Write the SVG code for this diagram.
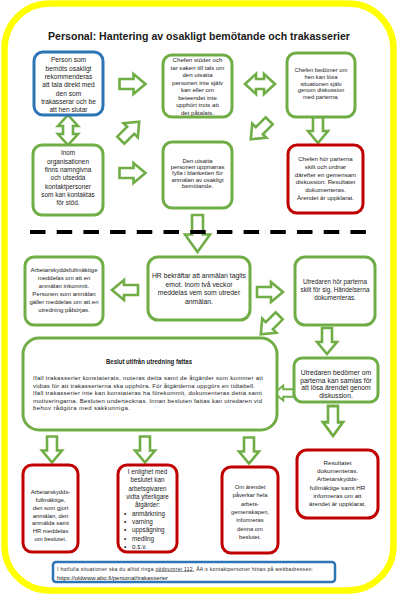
<svg xmlns="http://www.w3.org/2000/svg" xmlns:xlink="http://www.w3.org/1999/xlink" width="400" height="601" viewBox="0 0 400 601">
<style>
.g{fill:#fff;stroke:#70AD47;stroke-width:3}
.r{fill:#fff;stroke:#C00000;stroke-width:3}
.b{fill:#fff;stroke:#2E75B6;stroke-width:3}
.ar{fill:#fff;stroke:#70AD47;stroke-width:2.6;stroke-linejoin:miter}
text{font-family:"Liberation Sans",Arial,sans-serif;fill:#1a1a1a}
.c{text-anchor:middle}
</style>
<defs>
<path id="arr" d="M-13,-5 H1 V-10 L13,0 L1,10 V5 H-13 Z"/>
<path id="dbl" d="M-15,0 L-4,-10 V-5 H4 V-10 L15,0 L4,10 V5 H-4 V10 Z"/>
<path id="big" d="M-18.5,-5.5 H1 V-12.5 L18.5,0 L1,12.5 V5.5 H-18.5 Z"/>
</defs>
<rect x="4.5" y="3.5" width="389" height="587" rx="45" fill="#fff" stroke="#FFFF00" stroke-width="6.5"/>
<text x="199" y="40" class="c" font-size="11.5" font-weight="bold" textLength="302" lengthAdjust="spacingAndGlyphs">Personal: Hantering av osakligt bemötande och trakasserier</text>

<g id="connectors">
<use xlink:href="#arr" class="ar" transform="translate(132.5,84)"/>
<use xlink:href="#dbl" class="ar" transform="translate(260,84)"/>
<use xlink:href="#dbl" class="ar" transform="translate(68,130) rotate(90)"/>
<use xlink:href="#arr" class="ar" transform="translate(130,131) rotate(-45)"/>
<use xlink:href="#arr" class="ar" transform="translate(132.5,173)"/>
<use xlink:href="#arr" class="ar" transform="translate(260,130) rotate(135)"/>
<use xlink:href="#arr" class="ar" transform="translate(318,130) rotate(90)"/>
<use xlink:href="#big" class="ar" transform="translate(197.5,233.5) rotate(90)"/>
<line x1="30" y1="232" x2="367" y2="232" stroke="#000" stroke-width="4" stroke-dasharray="15.5 11.2"/>
<use xlink:href="#arr" class="ar" transform="translate(125,290) rotate(180)"/>
<use xlink:href="#arr" class="ar" transform="translate(270,292)"/>
<use xlink:href="#arr" class="ar" transform="translate(270,325) rotate(135)"/>
<use xlink:href="#arr" class="ar" transform="translate(327,341) rotate(90)"/>
<use xlink:href="#arr" class="ar" transform="translate(284,393) rotate(180) scale(0.75)"/>
<use xlink:href="#arr" class="ar" transform="translate(333,421) rotate(90) scale(1.15,1)"/>
<use xlink:href="#arr" class="ar" transform="translate(52,449.5) rotate(90)"/>
<use xlink:href="#arr" class="ar" transform="translate(145,449.5) rotate(90)"/>
<use xlink:href="#arr" class="ar" transform="translate(249,450.5) rotate(90)"/>
</g>

<g id="nodeA">
<rect class="b" x="34" y="52" width="69" height="63" rx="9"/>
<text class="c" font-size="6.6"><tspan x="68.5" y="62.2">Person som</tspan><tspan x="68.5" y="70.5">bemöts osakligt</tspan><tspan x="68.5" y="78.9">rekommenderas</tspan><tspan x="68.5" y="87.2">att tala direkt med</tspan><tspan x="68.5" y="95.5">den som</tspan><tspan x="68.5" y="103.9">trakasserar och be</tspan><tspan x="68.5" y="112.2">att hen slutar</tspan></text>
</g>
<g id="nodeB">
<rect class="g" x="163" y="55" width="69" height="62" rx="9"/>
<text class="c" font-size="6.1"><tspan x="197.5" y="62">Chefen stöder och</tspan><tspan x="197.5" y="69.6">tar saken till tals om</tspan><tspan x="197.5" y="77.1">den utsatta</tspan><tspan x="197.5" y="84.7">personen inte själv</tspan><tspan x="197.5" y="92.3">kan eller om</tspan><tspan x="197.5" y="99.9">beteendet inte</tspan><tspan x="197.5" y="107.4">upphört trots att</tspan><tspan x="197.5" y="115">det påtalats.</tspan></text>
</g>
<g id="nodeC">
<rect class="g" x="287" y="53" width="68" height="64" rx="9"/>
<text class="c" font-size="5.8"><tspan x="321" y="72">Chefen bedömer om</tspan><tspan x="321" y="78.8">hen kan lösa</tspan><tspan x="321" y="85.5">situationen själv</tspan><tspan x="321" y="92.3">genom diskussion</tspan><tspan x="321" y="99">med parterna.</tspan></text>
</g>
<g id="nodeD">
<rect class="g" x="33" y="145" width="70" height="70" rx="9"/>
<text class="c" font-size="6.4"><tspan x="68" y="155.2">Inom</tspan><tspan x="68" y="163.5">organisationen</tspan><tspan x="68" y="171.9">finns namngivna</tspan><tspan x="68" y="180.2">och utsedda</tspan><tspan x="68" y="188.5">kontaktpersoner</tspan><tspan x="68" y="196.9">som kan kontaktas</tspan><tspan x="68" y="205.2">för stöd.</tspan></text>
</g>
<g id="nodeE">
<rect class="g" x="163" y="142" width="69" height="66" rx="9"/>
<text class="c" font-size="5.9"><tspan x="197.5" y="163">Den utsatta</tspan><tspan x="197.5" y="169.2">personen uppmanas</tspan><tspan x="197.5" y="175.4">fylla i blanketten för</tspan><tspan x="197.5" y="181.6">anmälan av osakligt</tspan><tspan x="197.5" y="187.8">bemötande.</tspan></text>
</g>
<g id="nodeF">
<rect class="r" x="288" y="145" width="75" height="68" rx="9"/>
<text class="c" font-size="6.1"><tspan x="325.5" y="161">Chefen hör parterna</tspan><tspan x="325.5" y="168.8">skilt och ordnar</tspan><tspan x="325.5" y="176.6">därefter en gemensam</tspan><tspan x="325.5" y="184.4">diskussion. Resultatet</tspan><tspan x="325.5" y="192.2">dokumenteras.</tspan><tspan x="325.5" y="200">Ärendet är uppklarat.</tspan></text>
</g>
<g id="nodeG">
<rect class="g" x="25" y="257" width="78" height="68" rx="9"/>
<text class="c" font-size="6"><tspan x="64" y="272">Arbetarskyddsfullmäktige</tspan><tspan x="64" y="280">meddelas om att en</tspan><tspan x="64" y="288">anmälan inkommit.</tspan><tspan x="64" y="296">Personen som anmälan</tspan><tspan x="64" y="304">gäller meddelas om att en</tspan><tspan x="64" y="312">utredning påbörjas.</tspan></text>
</g>
<g id="nodeH">
<rect class="g" x="148" y="257" width="102" height="63" rx="10"/>
<text class="c" font-size="6.8"><tspan x="199" y="278">HR bekräftar att anmälan tagits</tspan><tspan x="199" y="286.5">emot. Inom två veckor</tspan><tspan x="199" y="295">meddelas vem som utreder</tspan><tspan x="199" y="303.5">anmälan.</tspan></text>
</g>
<g id="nodeI">
<rect class="g" x="295" y="257" width="80" height="68" rx="10"/>
<text class="c" font-size="6.3"><tspan x="335" y="284">Utredaren hör parterna</tspan><tspan x="335" y="292">skilt för sig. Händelserna</tspan><tspan x="335" y="300">dokumenteras.</tspan></text>
</g>
<g id="nodeJ">
<rect class="g" x="23" y="338" width="254" height="92" rx="16" stroke-width="4"/>
<text x="149" y="364" class="c" font-size="6.6" font-weight="bold" textLength="86" lengthAdjust="spacingAndGlyphs">Beslut utifrån utredning fattas</text>
<text font-size="6" lengthAdjust="spacingAndGlyphs"><tspan x="33" y="380" textLength="230">Ifall trakasserier konstaterats, noteras detta samt de åtgärder som kommer att</tspan><tspan x="33" y="387.5" textLength="222">vidtas för att trakasserierna ska upphöra. För åtgärderna uppgörs en tidtabell.</tspan><tspan x="33" y="395" textLength="229">Ifall trakasserier inte kan konstateras ha förekommit, dokumenteras detta samt</tspan><tspan x="33" y="402.5" textLength="229">motiveringarna. Besluten undertecknas. Innan besluten fattas kan utredaren vid</tspan><tspan x="33" y="410" textLength="97">behov rådgöra med sakkunniga.</tspan></text>
</g>
<g id="nodeK">
<rect class="g" x="294" y="358" width="84" height="44" rx="8"/>
<text class="c" font-size="6.8"><tspan x="336" y="375">Utredaren bedömer om</tspan><tspan x="336" y="382.5">parterna kan samlas för</tspan><tspan x="336" y="390">att lösa ärendet genom</tspan><tspan x="336" y="397.5">diskussion.</tspan></text>
</g>
<g id="nodeL">
<rect class="r" x="297" y="450" width="81" height="68" rx="10"/>
<text class="c" font-size="6.2"><tspan x="337.5" y="465">Resultatet</tspan><tspan x="337.5" y="473.2">dokumenteras.</tspan><tspan x="337.5" y="481.4">Arbetarskydds-</tspan><tspan x="337.5" y="489.6">fullmäktige samt HR</tspan><tspan x="337.5" y="497.8">informeras om att</tspan><tspan x="337.5" y="506">ärendet är uppklarat.</tspan></text>
</g>
<g id="nodeM">
<rect class="r" x="23" y="465" width="55" height="87" rx="9"/>
<text class="c" font-size="5.9"><tspan x="50.5" y="494">Arbetarskydds-</tspan><tspan x="50.5" y="501.8">fullmäktige,</tspan><tspan x="50.5" y="509.7">den som gjort</tspan><tspan x="50.5" y="517.5">anmälan, den</tspan><tspan x="50.5" y="525.3">anmälda samt</tspan><tspan x="50.5" y="533.2">HR meddelas</tspan><tspan x="50.5" y="541">om beslutet.</tspan></text>
</g>
<g id="nodeN">
<rect class="r" x="118" y="465" width="59" height="87" rx="9"/>
<text class="c" font-size="6.3"><tspan x="147.5" y="474">I enlighet med</tspan><tspan x="147.5" y="482.3">beslutet kan</tspan><tspan x="147.5" y="490.7">arbetsgivaren</tspan><tspan x="147.5" y="499">vidta ytterligare</tspan><tspan x="147.5" y="507.3">åtgärder:</tspan></text>
<text font-size="6.3"><tspan x="124" y="515.7">•</tspan><tspan x="132" y="515.7">anmärkning</tspan><tspan x="124" y="524">•</tspan><tspan x="132" y="524">varning</tspan><tspan x="124" y="532.3">•</tspan><tspan x="132" y="532.3">uppsägning</tspan><tspan x="124" y="540.7">•</tspan><tspan x="132" y="540.7">medling</tspan><tspan x="124" y="549">•</tspan><tspan x="132" y="549">o.s.v.</tspan></text>
</g>
<g id="nodeO">
<rect class="r" x="222" y="467" width="56" height="86" rx="9"/>
<text class="c" font-size="5.8"><tspan x="250" y="489">Om ärendet</tspan><tspan x="250" y="497.3">påverkar hela</tspan><tspan x="250" y="505.7">arbets-</tspan><tspan x="250" y="514">gemenskapen,</tspan><tspan x="250" y="522.3">informeras</tspan><tspan x="250" y="530.7">denna om</tspan><tspan x="250" y="539">beslutet.</tspan></text>
</g>
<g id="nodeInfo">
<rect x="53" y="562" width="282" height="20" rx="3" fill="#fff" stroke="#2E75B6" stroke-width="2.5"/>
<text font-size="5" lengthAdjust="spacingAndGlyphs"><tspan x="57" y="570.5" textLength="256">I hotfulla situationer ska du alltid ringa <tspan text-decoration="underline">nödnumret 112.</tspan> ÅA:s kontaktpersoner hittas på webbadressen:</tspan></text>
<text x="57" y="579.5" font-size="5" textLength="111" lengthAdjust="spacingAndGlyphs">https://oldwww.abo.fi/personal/trakasserier</text>
</g>
</svg>
